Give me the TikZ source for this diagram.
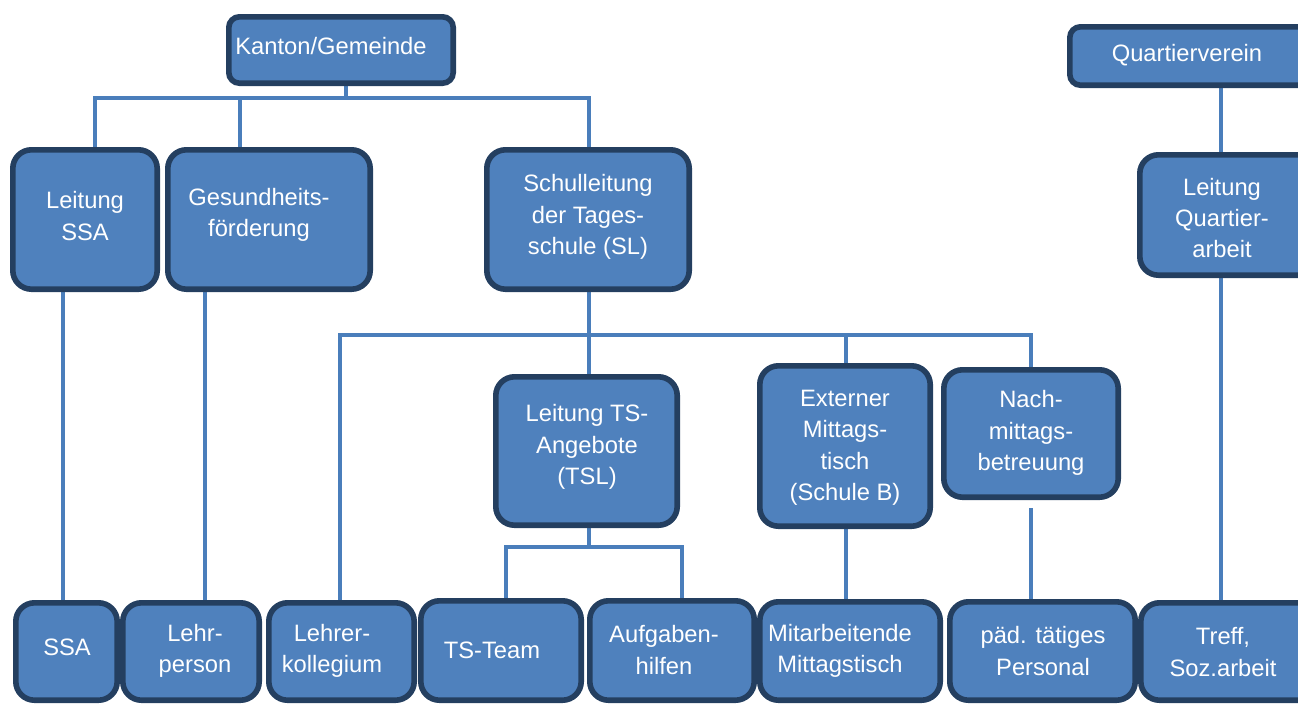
\documentclass[tikz,border=0pt]{standalone}
\usepackage{fontspec}
\setmainfont{Liberation Sans}
\usetikzlibrary{backgrounds}

\definecolor{boxfill}{HTML}{4F81BD}
\definecolor{boxline}{HTML}{243F60}
\definecolor{linkcol}{HTML}{4A7EBB}

\tikzset{
  orgbox/.style={draw=boxline, fill=boxfill, line width=4.2pt,
    rounded corners=#1, inner sep=0pt},
  orgbox/.default=14pt,
  boxtext/.style={text=white, align=center, inner sep=0pt,
    font=\fontsize{17.8pt}{23.6pt}\selectfont},
  link/.style={draw=linkcol, line width=2.6pt},
}

% \orgnode[radius]{name}{x1}{y1}{x2}{y2}{text x}{text y}{text}
% corners are the outer edges of the frame, in pixel units
\newcommand\orgnode[9][14pt]{%
  \node[orgbox=#1,
        minimum width={(#5-#3-5.6)*0.75pt},
        minimum height={(#6-#4-5.6)*0.75pt}]
        (#2) at ({(#3+#5)/2},{(#4+#6)/2}) {};
  \node[boxtext] (#2-text) at (#7,#8) {#9};
}

\begin{document}
\begin{tikzpicture}[x=0.75pt, y=-0.75pt]
\useasboundingbox (0,0) rectangle (1298,704);
\clip (0,0) rectangle (1298,704);

% top level
\orgnode[8pt]{kanton}{226}{14}{456}{86}{331}{46}{Kanton/Gemeinde}
\orgnode[8pt]{qv}{1067}{24}{1320}{88}{1187}{55}{Quartierverein}

% second level
\orgnode{lssa}{10}{147}{160}{292}{85}{216}{Leitung\\SSA}
\orgnode{gesund}{165}{147}{373}{292}{259}{215}{Gesundheits-\\förderung}
\orgnode{schul}{484}{147}{692}{292}{588}{217}{Schulleitung\\der Tages-\\schule (SL)}
\orgnode{lqa}{1137}{152}{1320}{278}{1222}{218}{Leitung\\Quartier-\\arbeit}

% third level
\orgnode{lts}{493}{374}{680}{528}{587}{447}{Leitung TS-\\Angebote\\(TSL)}
\orgnode{ext}{757}{363}{933}{529}{845}{448}{Externer\\Mittags-\\tisch\\(Schule B)}
\orgnode{nach}{941}{367}{1121}{500}{1031}{433}{Nach-\\mittags-\\betreuung}

% bottom row
\orgnode{ssa}{13}{600}{120}{703}{67}{647}{SSA}
\orgnode{lp}{120}{600}{262}{703}{195}{651}{Lehr-\\person}
\orgnode{lk}{266}{600}{417}{703}{332}{651}{Lehrer-\\kollegium}
\orgnode{tst}{418}{598}{584}{703}{492}{650}{TS-Team}
\orgnode{auf}{587}{598}{757}{703}{664}{650}{Aufgaben-\\hilfen}
\orgnode{mit}{757}{599}{943}{703}{840}{651}{Mitarbeitende\\Mittagstisch}
\orgnode{paed}{947}{599}{1138}{703}{1043}{651}{päd. tätiges\\Personal}
\orgnode{treff}{1138}{600}{1320}{703}{1223}{652}{Treff,\\Soz.arbeit}

\begin{pgfonlayer}{background}
  % Kanton/Gemeinde branches
  \draw[link] (kanton.south -| 346,0) -- (346,98);
  \draw[link] (lssa.north -| 95,0) -- (95,98) -- (589,98) -- (schul.north -| 589,0);
  \draw[link] (gesund.north -| 240,0) -- (240,98);
  \draw[link] (lssa.south -| 63,0) -- (ssa.north -| 63,0);
  \draw[link] (gesund.south -| 205,0) -- (lp.north -| 205,0);

  % Schulleitung branches
  \draw[link] (schul.south -| 589,0) -- (lts.north -| 589,0);
  \draw[link] (lk.north -| 340,0) -- (340,335) -- (1031,335) -- (nach.north -| 1031,0);
  \draw[link] (ext.north -| 846,0) -- (846,335);

  % TS-Angebote branches
  \draw[link] (lts.south -| 589,0) -- (589,547);
  \draw[link] (tst.north -| 506,0) -- (506,547) -- (682,547) -- (auf.north -| 682,0);

  % Mittagstisch and Nachmittagsbetreuung
  \draw[link] (ext.south -| 846,0) -- (mit.north -| 846,0);
  \draw[link] ([yshift=-6pt]nach.south -| 1031,0) -- (paed.north -| 1031,0);

  % Quartierverein
  \draw[link] (qv.south -| 1221,0) -- (lqa.north -| 1221,0);
  \draw[link] (lqa.south -| 1221,0) -- (treff.north -| 1221,0);
\end{pgfonlayer}
\end{tikzpicture}
\end{document}
